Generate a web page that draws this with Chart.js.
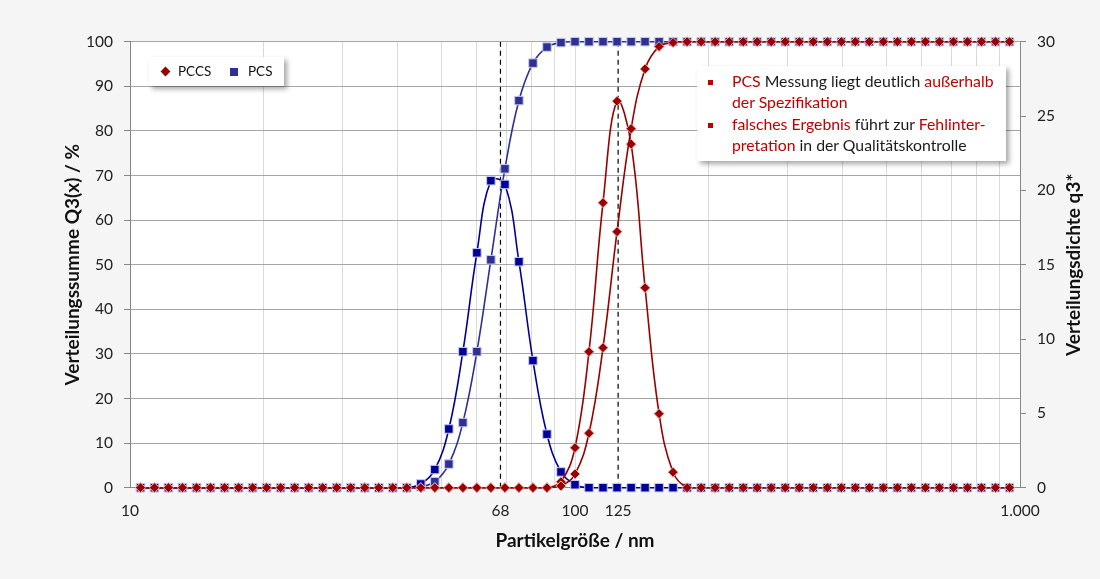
<!DOCTYPE html>
<html>
<head>
<meta charset="utf-8">
<script src="https://cdn.jsdelivr.net/npm/chart.js@4.4.1/dist/chart.umd.min.js"></script>
<style>
  body { margin: 0; background: #f5f5f5; font-family: Lato, "Open Sans", sans-serif; }
  #wrap { position: relative; width: 1100px; height: 579px; }
  canvas { position: absolute; left: 0; top: 0; }
  .box { position: absolute; background: #fff; box-shadow: 3px 3px 5px rgba(0,0,0,0.35); }
  #legend { left: 149px; top: 57px; width: 135px; height: 29px; font-size: 13.5px; color: #111; }
  #legend span { position: absolute; top: 6px; }
  .dia { position: absolute; width: 7px; height: 7px; background: #990000; transform: rotate(45deg); }
  .sq { position: absolute; width: 8px; height: 8px; background: #2e3192; }
  #note { left: 697px; top: 66px; width: 309px; height: 95px; font-size: 15.8px; color: #1a1a1a; line-height: 21px; }
  #note p { position: absolute; left: 35px; margin: 0; white-space: nowrap; }
  #note i { position: absolute; left: 11px; width: 5px; height: 5px; background: #c00000; }
  .r { color: #c00000; }
</style>
</head>
<body>
<div id="wrap">
  <canvas id="chart" width="1100" height="579"></canvas>
  <div id="legend" class="box">
    <div class="dia" style="left:13px; top:11px;"></div><span style="left:29px;">PCCS</span>
    <div class="sq" style="left:81px; top:11px;"></div><span style="left:99px;">PCS</span>
  </div>
  <div id="note" class="box">
    <i style="top:14px;"></i>
    <p style="top:4px;"><span class="r">PCS</span> Messung liegt deutlich <span class="r">außerhalb</span><br><span class="r">der Spezifikation</span></p>
    <i style="top:57px;"></i>
    <p style="top:47px;"><span class="r">falsches Ergebnis</span> führt zur <span class="r">Fehlinter-</span><br><span class="r">pretation</span> in der Qualitätskontrolle</p>
  </div>
</div>
<script>
// Partikelgröße (nm) der Messpunkte
const particleSizes = [
  10.56, 11.35, 12.20, 13.12, 14.11, 15.17, 16.31, 17.54, 18.86, 20.28,
  21.80, 23.44, 25.21, 27.10, 29.14, 31.33, 33.69, 36.22, 38.95, 41.88,
  45.03, 48.42, 52.06, 55.98, 60.19, 64.71, 69.58, 74.82, 80.45, 86.50,
  93.00, 100.0, 107.5, 115.6, 124.3, 133.7, 143.7, 154.5, 166.1, 178.6,
  192.1, 206.5, 222.1, 238.8, 256.7, 276.0, 296.8, 319.1, 343.1, 369.0,
  396.7, 426.5, 458.6, 493.1, 530.2, 570.1, 613.0, 659.1, 708.7, 762.0,
  819.3, 880.9, 947.2
];

// PCCS Verteilungssumme Q3 (%)
const pccsSum = [
  0, 0, 0, 0, 0, 0, 0, 0, 0, 0,
  0, 0, 0, 0, 0, 0, 0, 0, 0, 0,
  0, 0, 0, 0, 0, 0, 0, 0, 0, 0,
  0.4, 3.07, 12.2, 31.4, 57.4, 80.5, 93.9, 98.9, 99.8, 100,
  100, 100, 100, 100, 100, 100, 100, 100, 100, 100,
  100, 100, 100, 100, 100, 100, 100, 100, 100, 100,
  100, 100, 100
];

// PCCS Verteilungsdichte q3*
const pccsDensity = [
  0, 0, 0, 0, 0, 0, 0, 0, 0, 0,
  0, 0, 0, 0, 0, 0, 0, 0, 0, 0,
  0, 0, 0, 0, 0, 0, 0, 0, 0, 0,
  0.4, 2.69, 9.15, 19.17, 26.0, 23.11, 13.45, 4.98, 1.04, 0,
  0, 0, 0, 0, 0, 0, 0, 0, 0, 0,
  0, 0, 0, 0, 0, 0, 0, 0, 0, 0,
  0, 0, 0
];

// PCS Verteilungssumme Q3 (%)
const pcsSum = [
  0, 0, 0, 0, 0, 0, 0, 0, 0, 0,
  0, 0, 0, 0, 0, 0, 0, 0, 0, 0,
  0.2, 1.35, 5.3, 14.6, 30.5, 51.1, 71.5, 86.8, 95.2, 98.8,
  99.8, 100, 100, 100, 100, 100, 100, 100, 100, 100,
  100, 100, 100, 100, 100, 100, 100, 100, 100, 100,
  100, 100, 100, 100, 100, 100, 100, 100, 100, 100,
  100, 100, 100
];

// PCS Verteilungsdichte q3*
const pcsDensity = [
  0, 0, 0, 0, 0, 0, 0, 0, 0, 0,
  0, 0, 0, 0, 0, 0, 0, 0, 0, 0,
  0.25, 1.22, 3.95, 9.15, 15.8, 20.65, 20.4, 15.2, 8.55, 3.6,
  1.06, 0.2, 0, 0, 0, 0, 0, 0, 0, 0,
  0, 0, 0, 0, 0, 0, 0, 0, 0, 0,
  0, 0, 0, 0, 0, 0, 0, 0, 0, 0,
  0, 0, 0
];

// Markierungen (gestrichelte Linien) und Achsenbeschriftung
const markerSizes = [68, 125];
const xGridValues = [10, 20, 30, 40, 50, 60, 70, 80, 90, 100, 200, 300, 400, 500, 600, 700, 800, 900, 1000];
const xTickValues = [10, 68, 100, 125, 1000];
const xTickLabels = ['10', '68', '100', '125', '1.000'];
const y1Title = 'Verteilungsdichte q3*';

const toPoints = values => values.map((v, i) => ({ x: particleSizes[i], y: v }));

const RED = '#990000';
const BLUE = '#2e3192';
const NAVY = '#000099';
const tickFont = { family: 'Lato', size: 15.5 };
const titleFont = { family: 'Lato', size: 19, weight: 'bold' };

// weißer Hintergrund nur im Diagrammbereich
const plotBackground = {
  id: 'plotBackground',
  beforeDraw(chart) {
    const { ctx, chartArea: a } = chart;
    ctx.save();
    ctx.fillStyle = '#ffffff';
    ctx.fillRect(a.left, a.top, a.right - a.left, a.bottom - a.top);
    ctx.restore();
  }
};

// rechte Achsenbeschriftung von unten nach oben lesbar (wie links)
const rightTitle = {
  id: 'rightTitle',
  afterDraw(chart) {
    const { ctx, chartArea: a } = chart;
    ctx.save();
    ctx.translate(chart.width - 26, (a.top + a.bottom) / 2);
    ctx.rotate(-Math.PI / 2);
    ctx.font = 'bold 19px Lato';
    ctx.fillStyle = '#111';
    ctx.textAlign = 'center';
    ctx.textBaseline = 'middle';
    ctx.fillText(y1Title, 0, 0);
    ctx.restore();
  }
};

const lineDataset = (label, values, axis, color, style, radius, border) => ({
  label: label,
  data: toPoints(values),
  yAxisID: axis,
  borderColor: color,
  backgroundColor: color,
  borderWidth: 1.6,
  pointStyle: style,
  pointRadius: radius,
  pointBorderColor: border,
  pointBorderWidth: 1,
  pointBackgroundColor: color,
  tension: 0.4,
  clip: false
});

const markerLines = markerSizes.map(size => ({
  label: 'Markierung ' + size,
  data: [{ x: size, y: 0 }, { x: size, y: 100 }],
  yAxisID: 'y',
  borderColor: '#000',
  borderWidth: 1.2,
  borderDash: [5, 4],
  pointRadius: 0,
  tension: 0
}));

new Chart(document.getElementById('chart').getContext('2d'), {
  type: 'line',
  data: {
    datasets: [
      lineDataset('PCCS', pccsSum, 'y', RED, 'rectRot', 5, '#e8b0b0'),
      lineDataset('PCCS q3*', pccsDensity, 'y1', RED, 'rectRot', 5, '#e8b0b0'),
      lineDataset('PCS q3*', pcsDensity, 'y1', NAVY, 'rect', 6, '#c8c8f0'),
      lineDataset('PCS', pcsSum, 'y', BLUE, 'rect', 6, '#c8c8f0'),
      ...markerLines
    ]
  },
  options: {
    responsive: false,
    animation: false,
    layout: { padding: { top: 41.7, left: 0, right: 0, bottom: 0 } },
    plugins: {
      legend: { display: false },
      tooltip: { enabled: false }
    },
    scales: {
      x: {
        type: 'logarithmic',
        position: 'bottom',
        min: 10,
        max: 1000,
        afterBuildTicks: scale => {
          const vals = [...new Set(xGridValues.concat(xTickValues))].sort((a, b) => a - b);
          scale.ticks = vals.map(v => ({ value: v }));
        },
        afterFit: scale => { scale.height = 91.3; },
        ticks: {
          autoSkip: false,
          maxRotation: 0,
          padding: 14,
          color: '#222',
          font: tickFont,
          callback: value => {
            const i = xTickValues.indexOf(value);
            return i >= 0 ? xTickLabels[i] : '';
          }
        },
        grid: {
          drawTicks: false,
          color: ctx => (ctx.tick && xGridValues.indexOf(ctx.tick.value) < 0) ? 'rgba(0,0,0,0)' : '#d9d9d9'
        },
        border: { color: '#868686' },
        title: {
          display: true,
          text: 'Partikelgröße / nm',
          color: '#111',
          font: titleFont,
          padding: { top: 0, bottom: 27 }
        }
      },
      y: {
        position: 'left',
        min: 0,
        max: 100,
        afterFit: scale => { scale.width = 130; },
        ticks: { stepSize: 10, padding: 11, color: '#222', font: tickFont },
        grid: { color: '#a6a6a6', tickColor: '#868686', tickLength: 6 },
        border: { color: '#868686' },
        title: {
          display: true,
          text: 'Verteilungssumme Q3(x) / %',
          color: '#111',
          font: titleFont,
          padding: { top: 61, bottom: 0 }
        }
      },
      y1: {
        position: 'right',
        min: 0,
        max: 30,
        afterFit: scale => { scale.width = 80; },
        ticks: { stepSize: 5, padding: 11, color: '#222', font: tickFont },
        grid: { drawOnChartArea: false, tickColor: '#868686', tickLength: 6 },
        border: { color: '#868686' },
        title: { display: false }
      }
    }
  },
  plugins: [plotBackground, rightTitle]
});
</script>
</body>
</html>
